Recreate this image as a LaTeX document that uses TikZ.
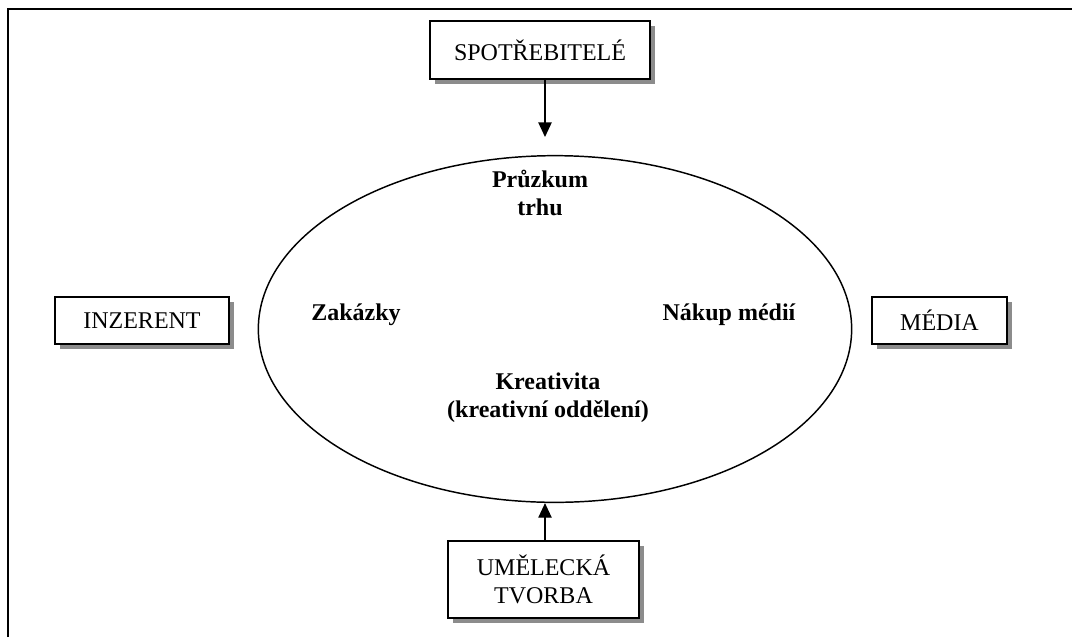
\documentclass[tikz,border=0pt]{standalone}
\usepackage{fontspec}
\setmainfont{Liberation Serif}
\usetikzlibrary{shapes.geometric,shadows,arrows.meta}

\tikzset{
	party/.style={draw, line width=1.5pt, fill=white, align=center, inner sep=0pt,
		drop shadow={shadow xshift=3.5pt, shadow yshift=-3.5pt, fill=black!45, opacity=1}},
	dept/.style={font=\fontsize{18}{20.7}\selectfont\bfseries, align=center, inner sep=0pt},
	flow/.style={line width=1.1pt, -{Triangle[length=11pt, width=10pt]}}
}

\begin{document}
\begin{tikzpicture}[x=0.75pt, y=-0.75pt, font=\fontsize{18}{20.7}\selectfont]
	\useasboundingbox (0,0) rectangle (1072,637);
	\draw[line width=1.5pt] (8,637) -- (8,9) -- (1072,9);

	% the agency
	\node[ellipse, draw, line width=1.1pt, minimum width=445pt, minimum height=260pt, inner sep=0pt] (agency) at (555,329) {};
	\node[dept] (survey) at (540,193) {Průzkum\\trhu};
	\node[dept] (orders) at (356,315) {Zakázky};
	\node[dept] (buying) at (729,315) {Nákup médií};
	\node[dept] (creative) at (548,398) {Kreativita\\(kreativní oddělení)};

	% the parties round it
	\node[party, minimum width=165pt, minimum height=43.5pt] (consumers) at (540,50) {SPOTŘEBITELÉ};
	\node[party, minimum width=130.5pt, minimum height=35pt] (advertiser) at (142,320.5) {INZERENT};
	\node[party, minimum width=101pt, minimum height=35pt] (media) at (939.5,320.5) {MÉDIA};
	\node[party, minimum width=143pt, minimum height=58pt] (artwork) at (543.5,579.5) {UMĚLECKÁ\\TVORBA};

	\coordinate (survey in) at (545,137);
	\draw[flow] (consumers.south -| survey in) -- (survey in);
	\draw[flow] (artwork.north -| survey in) -- (agency.south -| survey in);
\end{tikzpicture}
\end{document}
